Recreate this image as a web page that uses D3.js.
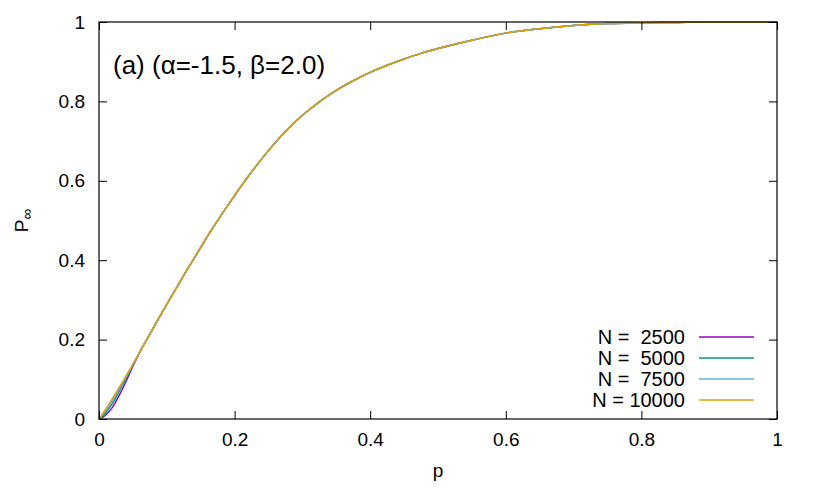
<!DOCTYPE html>
<html>
<head>
<meta charset="utf-8">
<script src="https://cdn.jsdelivr.net/npm/d3@7"></script>
<style>
  body { margin: 0; background: #fff; }
  #graphic { width: 814px; height: 488px; }
  text { font-family: "Liberation Sans", Arial, Helvetica, sans-serif; fill: #000; }
</style>
</head>
<body>
<div id="graphic"></div>
<script>
// sampled p values (x axis)
const pValues = [0, 0.005, 0.01, 0.02, 0.03, 0.04, 0.05, 0.06, 0.07, 0.08, 0.09,
  0.1, 0.11, 0.12, 0.13, 0.14, 0.15, 0.16, 0.17, 0.18, 0.19, 0.2, 0.22, 0.25,
  0.275, 0.3, 0.325, 0.35, 0.375, 0.4, 0.425, 0.45, 0.475, 0.5, 0.55, 0.6,
  0.65, 0.7, 0.75, 0.8, 0.85, 0.9, 0.95, 1.0];

// shared upper part of the curves (p >= 0.07), all sizes collapse there
const tailValues = [0.199, 0.229, 0.259, 0.289, 0.318, 0.347, 0.376, 0.404,
  0.432, 0.460, 0.487, 0.513, 0.538, 0.563, 0.611, 0.676, 0.724, 0.765, 0.799,
  0.828, 0.852, 0.873, 0.891, 0.907, 0.921, 0.933, 0.954, 0.972, 0.983, 0.991,
  0.996, 0.998, 0.999, 1.0, 1.0, 1.0];

const pInf2500 = [0, 0.004, 0.010, 0.030, 0.060, 0.095, 0.133, 0.168].concat(tailValues);
const pInf5000 = [0, 0.007, 0.016, 0.040, 0.070, 0.102, 0.136, 0.168].concat(tailValues);
const pInf7500 = [0, 0.010, 0.021, 0.047, 0.076, 0.106, 0.137, 0.168].concat(tailValues);
const pInf10000 = [0, 0.012, 0.025, 0.052, 0.080, 0.109, 0.138, 0.168].concat(tailValues);

const seriesLabels = ["N =  2500", "N =  5000", "N =  7500", "N = 10000"];
const seriesValues = [pInf2500, pInf5000, pInf7500, pInf10000];
const seriesColors = ["#9400d3", "#009e73", "#56b4e9", "#e69f00"];

const xTicks = [0, 0.2, 0.4, 0.6, 0.8, 1];
const yTicks = [0, 0.2, 0.4, 0.6, 0.8, 1];
const titleText = "(a) (α=-1.5, β=2.0)";

const Chart = {
  el: "#graphic",
  outerWidth: 814,
  outerHeight: 488,
  margin: { left: 99, right: 37, top: 22, bottom: 69 },
  tickLen: 8,
  parameters(){
    this.width = this.outerWidth - this.margin.left - this.margin.right;
    this.height = this.outerHeight - this.margin.top - this.margin.bottom;
  },
  createScales(){
    this.xScale = d3.scaleLinear().domain([0, 1]).range([0, this.width]);
    this.yScale = d3.scaleLinear().domain([0, 1]).range([this.height, 0]);
  },
  drawPlot(){
    document.querySelector(this.el).innerHTML = "";
    this.svg = d3.select(this.el)
      .append("svg")
      .attr("width", this.outerWidth)
      .attr("height", this.outerHeight);

    this.plot = this.svg.append("g")
      .attr("transform", `translate(${this.margin.left}, ${this.margin.top})`);
  },
  drawData(){
    const that = this;
    const line = d3.line()
      .curve(d3.curveMonotoneX)
      .x((d, i) => that.xScale(pValues[i]))
      .y(d => that.yScale(d));

    seriesValues.forEach(function(vals, i){
      that.plot.append("path")
        .datum(vals)
        .style("fill", "none")
        .style("stroke-linejoin", "round")
        .attr("stroke", seriesColors[i])
        .attr("stroke-width", 1.5)
        .attr("d", line);
    });
  },
  drawAxes(){
    const t = this.tickLen;
    // inward ticks, mirrored on all four sides like gnuplot
    const bottom = d3.axisBottom(this.xScale).tickValues(xTicks)
      .tickSizeInner(-t).tickSizeOuter(0).tickPadding(14)
      .tickFormat(d3.format("~g"));
    const top = d3.axisTop(this.xScale).tickValues(xTicks)
      .tickSizeInner(-t).tickSizeOuter(0).tickFormat("");
    const left = d3.axisLeft(this.yScale).tickValues(yTicks)
      .tickSizeInner(-t).tickSizeOuter(0).tickPadding(14)
      .tickFormat(d3.format("~g"));
    const right = d3.axisRight(this.yScale).tickValues(yTicks)
      .tickSizeInner(-t).tickSizeOuter(0).tickFormat("");

    this.plot.append("g").attr("class", "axis xaxis")
      .attr("transform", `translate(0, ${this.height})`).call(bottom);
    this.plot.append("g").attr("class", "axis")
      .call(top);
    this.plot.append("g").attr("class", "axis yaxis")
      .call(left);
    this.plot.append("g").attr("class", "axis")
      .attr("transform", `translate(${this.width}, 0)`).call(right);

    this.plot.selectAll(".axis .domain").remove();
    this.plot.selectAll(".axis line").attr("stroke", "#000").attr("stroke-width", 1);
    this.plot.selectAll(".axis text")
      .style("font-family", '"Liberation Sans", Arial, sans-serif')
      .style("font-size", "19px")
      .attr("fill", "#000");
    this.plot.selectAll(".xaxis text").attr("dy", "0.71em");

    // frame
    this.plot.append("rect")
      .attr("x", 0).attr("y", 0)
      .attr("width", this.width).attr("height", this.height)
      .attr("fill", "none")
      .attr("stroke", "#000")
      .attr("stroke-width", 1.2);
  },
  drawLabels(){
    this.svg.append("text")
      .attr("x", this.margin.left + this.width / 2)
      .attr("y", 477)
      .attr("text-anchor", "middle")
      .style("font-size", "19px")
      .text("p");

    const yl = this.svg.append("text")
      .attr("transform", `translate(28, ${this.margin.top + this.height / 2}) rotate(-90)`)
      .attr("text-anchor", "middle")
      .style("font-size", "19px");
    yl.append("tspan").text("P");
    yl.append("tspan").attr("dy", 4).style("font-size", "15px").text("∞");

    this.svg.append("text")
      .attr("x", 113)
      .attr("y", 74)
      .style("font-size", "26px")
      .text(titleText);
  },
  drawLegend(){
    const rowY = [337, 358, 379, 400];
    const g = this.svg.append("g").attr("class", "legend");
    seriesLabels.forEach(function(label, i){
      g.append("text")
        .attr("x", 685)
        .attr("y", rowY[i] + 7)
        .attr("text-anchor", "end")
        .attr("xml:space", "preserve")
        .style("white-space", "pre")
        .style("font-size", "20px")
        .text(label);
      g.append("line")
        .attr("x1", 699).attr("x2", 754)
        .attr("y1", rowY[i]).attr("y2", rowY[i])
        .attr("stroke", seriesColors[i])
        .attr("stroke-width", 1.5);
    });
  },
  draw(){
    this.parameters();
    this.createScales();
    this.drawPlot();
    this.drawData();
    this.drawAxes();
    this.drawLabels();
    this.drawLegend();
  }
};

Chart.draw();
</script>
</body>
</html>
